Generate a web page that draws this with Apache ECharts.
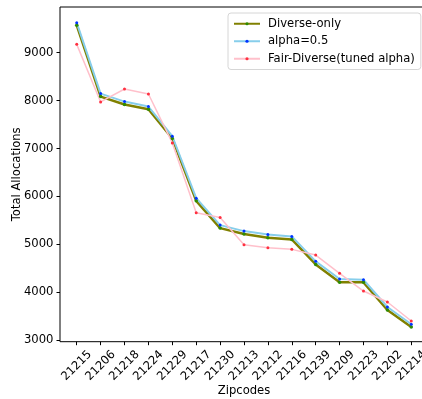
<!DOCTYPE html>
<html>
<head>
<meta charset="utf-8">
<script src="https://cdn.jsdelivr.net/npm/echarts@6/dist/echarts.min.js"></script>
<style>html,body{margin:0;padding:0;background:#fff}#c{width:422px;height:399px}</style>
</head>
<body>
<div id="c"></div>
<script>
var zipcodes = ['21215','21206','21218','21224','21229','21217','21230','21213','21212','21216','21239','21209','21223','21202','21214'];
var diverseOnly = [9569, 8083, 7917, 7819, 7208, 5908, 5340, 5215, 5140, 5104, 4583, 4210, 4208, 3631, 3277];
var alphaHalf   = [9625, 8146, 7979, 7875, 7256, 5965, 5402, 5277, 5205, 5167, 4646, 4278, 4263, 3694, 3333];
var fairDiverse = [9173, 7971, 8242, 8138, 7117, 5658, 5563, 4992, 4929, 4896, 4777, 4396, 4027, 3798, 3402];
var yTicks = [3000, 4000, 5000, 6000, 7000, 8000, 9000];
var seriesNames = ['Diverse-only', 'alpha=0.5', 'Fair-Diverse(tuned alpha)'];

function pairs(arr){ return arr.map(function(v,i){ return [i, v]; }); }
var xIdx = zipcodes.map(function(z,i){ return i; });
var FONT = 'DejaVu Sans';
var chart = echarts.init(document.getElementById('c'), null, {renderer:'canvas'});
chart.setOption({
  animation: false,
  backgroundColor: '#fff',
  textStyle: {fontFamily: FONT},
  grid: {left: 60, top: 7, width: 368, height: 334.7, outerBoundsMode: 'none', containLabel: false,
         show: true, borderColor: '#000', borderWidth: 1, backgroundColor: 'transparent'},
  legend: {
    left: 228, top: 13, orient: 'vertical',
    backgroundColor: '#fff', borderColor: '#d6d6d6', borderWidth: 1, borderRadius: 3,
    padding: [4, 6, 4, 5], itemWidth: 26, itemHeight: 4, itemGap: 4,
    textStyle: {fontFamily: FONT, fontSize: 11.6, color: '#000', padding: [0,0,0,3], lineHeight: 13.5},
    data: seriesNames
  },
  xAxis: {
    type: 'value', min: -0.7, max: 14.7,
    name: 'Zipcodes', nameLocation: 'middle', nameGap: 43, nameMoveOverlap: false,
    nameTextStyle: {fontFamily: FONT, fontSize: 11.6, color: '#000'},
    axisLine: {show: false, onZero: false},
    splitLine: {show: false},
    axisTick: {show: true, length: 3.5, lineStyle: {color: '#000', width: 1}, customValues: xIdx},
    axisLabel: {
      customValues: xIdx, rotate: 45, align: 'center', verticalAlign: 'middle', margin: 24,
      fontFamily: FONT, fontSize: 11.6, color: '#000',
      formatter: function(v){ return zipcodes[Math.round(v)]; }
    }
  },
  yAxis: {
    type: 'value', min: 2970, max: 9952,
    name: 'Total Allocations', nameLocation: 'middle', nameGap: 37, nameMoveOverlap: false,
    nameTextStyle: {fontFamily: FONT, fontSize: 11.6, color: '#000'},
    axisLine: {show: false, onZero: false},
    splitLine: {show: false},
    axisTick: {show: true, length: 3.5, lineStyle: {color: '#000', width: 1}, customValues: yTicks},
    axisLabel: {customValues: yTicks, margin: 6.5, fontFamily: FONT, fontSize: 11.6, color: '#000',
      formatter: function(v){ return String(Math.round(v)); }}
  },
  series: [
    {name: seriesNames[0], type: 'line', data: pairs(diverseOnly), symbol: 'circle', symbolSize: 3.5,
     lineStyle: {color: '#808000', width: 2.5}, itemStyle: {color: '#2e8b00'}},
    {name: seriesNames[1], type: 'line', data: pairs(alphaHalf), symbol: 'circle', symbolSize: 3,
     lineStyle: {color: '#87ceeb', width: 2}, itemStyle: {color: '#0033ff'}},
    {name: seriesNames[2], type: 'line', data: pairs(fairDiverse), symbol: 'circle', symbolSize: 3,
     lineStyle: {color: '#ffc0cb', width: 1.5}, itemStyle: {color: '#ff3040'}}
  ]
});
</script>
</body>
</html>
